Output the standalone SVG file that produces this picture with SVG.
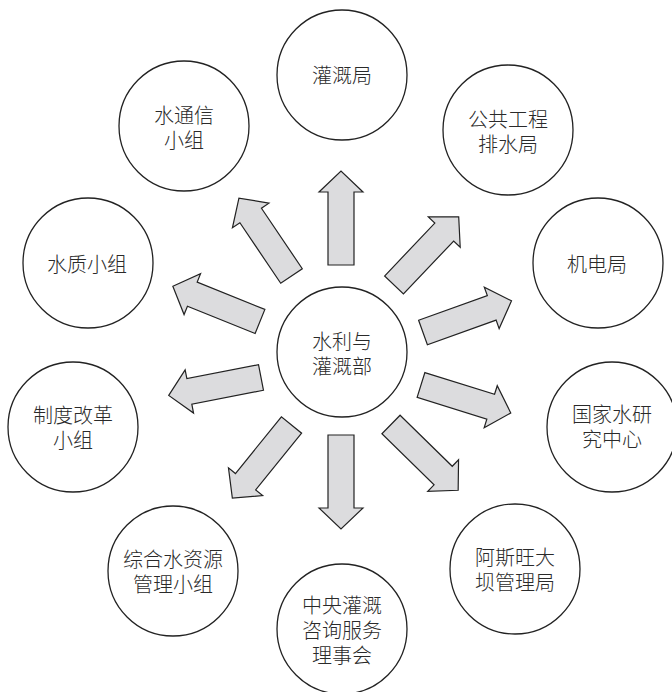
<svg xmlns="http://www.w3.org/2000/svg" width="672" height="692" viewBox="0 0 672 692">
<style>
.node circle{fill:#fff;stroke:#222;stroke-width:1.3}
.node text{font-family:"Noto Sans CJK SC","Liberation Serif",serif;font-size:20px;font-weight:300;fill:#2a2a2a;text-anchor:middle;dominant-baseline:central}
.arr{fill:#dcdcde;stroke:#222;stroke-width:1.2;stroke-linejoin:miter}
</style>
<defs>
<path id="ar" d="M0,-13 L73,-13 L73,-22 L94,0 L73,22 L73,13 L0,13 Z"/>
</defs>
<rect width="672" height="692" fill="#fff"/>
<g id="connectors">
<use href="#ar" class="arr" transform="translate(341,265) rotate(-90)"/>
<use href="#ar" class="arr" transform="translate(291.5,276) rotate(-124)"/>
<use href="#ar" class="arr" transform="translate(260,321.5) rotate(-158)"/>
<use href="#ar" class="arr" transform="translate(261,377.5) rotate(169)"/>
<use href="#ar" class="arr" transform="translate(291.5,425) rotate(129)"/>
<use href="#ar" class="arr" transform="translate(341,435) rotate(90)"/>
<use href="#ar" class="arr" transform="translate(391,424.5) rotate(44.4)"/>
<use href="#ar" class="arr" transform="translate(421,385) rotate(17.3)"/>
<use href="#ar" class="arr" transform="translate(423,332.5) rotate(-19.7)"/>
<use href="#ar" class="arr" transform="translate(394,285) rotate(-46.5)"/>
</g>
<g id="hub" class="node"><circle cx="342" cy="352" r="65"/><text x="342" y="340">水利与</text><text x="342" y="365">灌溉部</text></g>
<g id="n-guangaiju" class="node"><circle cx="342" cy="75" r="65"/><text x="342" y="74">灌溉局</text></g>
<g id="n-gonggong" class="node"><circle cx="508" cy="130" r="65"/><text x="508" y="118">公共工程</text><text x="508" y="143">排水局</text></g>
<g id="n-jidian" class="node"><circle cx="598" cy="263" r="65"/><text x="597" y="263">机电局</text></g>
<g id="n-guojia" class="node"><circle cx="612" cy="427" r="65"/><text x="612" y="413">国家水研</text><text x="612" y="438">究中心</text></g>
<g id="n-asiwang" class="node"><circle cx="515" cy="569" r="65"/><text x="515" y="556">阿斯旺大</text><text x="515" y="581">坝管理局</text></g>
<g id="n-zhongyang" class="node"><circle cx="342" cy="629" r="65"/><text x="342" y="604">中央灌溉</text><text x="342" y="629">咨询服务</text><text x="342" y="654">理事会</text></g>
<g id="n-zonghe" class="node"><circle cx="173" cy="571" r="65"/><text x="173" y="558">综合水资源</text><text x="173" y="583">管理小组</text></g>
<g id="n-zhidu" class="node"><circle cx="73" cy="427" r="65"/><text x="73" y="414">制度改革</text><text x="73" y="439">小组</text></g>
<g id="n-shuizhi" class="node"><circle cx="88" cy="263" r="65"/><text x="87" y="263">水质小组</text></g>
<g id="n-tongxin" class="node"><circle cx="184" cy="126" r="65"/><text x="184" y="114">水通信</text><text x="184" y="139">小组</text></g>
</svg>
